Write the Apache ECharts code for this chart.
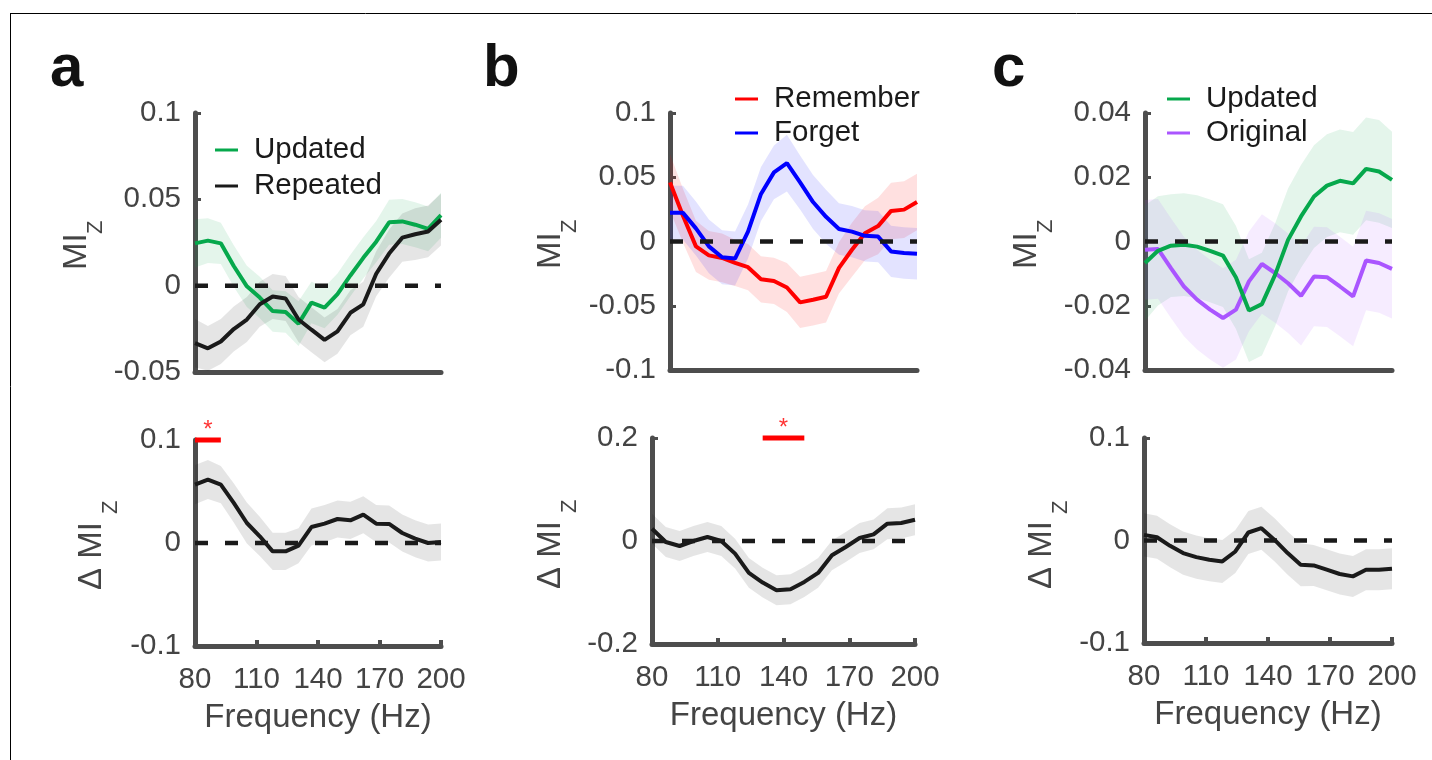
<!DOCTYPE html>
<html>
<head>
<meta charset="utf-8">
<title>MI_Z by frequency</title>
<script src="https://cdn.jsdelivr.net/npm/echarts@6/dist/echarts.min.js"></script>
<style>
  html, body { margin: 0; padding: 0; background: #fff; }
  #main { width: 1432px; height: 760px; }
</style>
</head>
<body>
<div id="main"></div>
<script>
// frequency bins (Hz)
var freqs = [80, 86.3, 92.6, 98.9, 105.3, 111.6, 117.9, 124.2, 130.5, 136.8, 143.2, 149.5, 155.8, 162.1, 168.4, 174.7, 181.1, 187.4, 193.7, 200];
var freqTicks = [80, 110, 140, 170, 200];

// panel a : Updated vs Repeated
var aUpdated = [0.0245, 0.0261, 0.0245, 0.0114, -0.0004, -0.0069, -0.0147, -0.0153, -0.0220, -0.0098, -0.0127, -0.0049, 0.0059, 0.0161, 0.0255, 0.0367, 0.0372, 0.0353, 0.0329, 0.0408];
var aUpdatedErr = [0.014, 0.013, 0.012, 0.012, 0.012, 0.012, 0.012, 0.012, 0.013, 0.012, 0.012, 0.012, 0.012, 0.012, 0.012, 0.013, 0.013, 0.013, 0.013, 0.013];
var aRepeated = [-0.0333, -0.0363, -0.0323, -0.0251, -0.0196, -0.0108, -0.0063, -0.0074, -0.0196, -0.0255, -0.0314, -0.0265, -0.0157, -0.0108, 0.0069, 0.0186, 0.0278, 0.0298, 0.0314, 0.0382];
var aRepeatedErr = [0.014, 0.013, 0.013, 0.013, 0.013, 0.013, 0.013, 0.013, 0.013, 0.013, 0.013, 0.013, 0.013, 0.013, 0.013, 0.014, 0.014, 0.015, 0.015, 0.015];
var aDiff = [0.0567, 0.0616, 0.0567, 0.0389, 0.0194, 0.0065, -0.0081, -0.0081, -0.0026, 0.0155, 0.0188, 0.0233, 0.0220, 0.0275, 0.0188, 0.0185, 0.0097, 0.0042, 0.0000, 0.0010];
var aDiffErr = [0.019, 0.019, 0.018, 0.019, 0.020, 0.019, 0.018, 0.018, 0.017, 0.018, 0.018, 0.018, 0.018, 0.018, 0.018, 0.018, 0.018, 0.018, 0.018, 0.018];
var aSig = [80, 92.6];

// panel b : Remember vs Forget
var bRemember = [0.0460, 0.0200, -0.0038, -0.0108, -0.0128, -0.0166, -0.0200, -0.0294, -0.0307, -0.0358, -0.0474, -0.0453, -0.0430, -0.0205, -0.0064, 0.0064, 0.0120, 0.0238, 0.0248, 0.0307];
var bRememberErr = [0.022, 0.021, 0.020, 0.019, 0.019, 0.018, 0.018, 0.018, 0.018, 0.019, 0.020, 0.020, 0.020, 0.020, 0.021, 0.021, 0.022, 0.022, 0.022, 0.022];
var bForget = [0.0223, 0.0223, 0.0102, -0.0038, -0.0123, -0.0133, 0.0077, 0.0370, 0.0538, 0.0610, 0.0460, 0.0307, 0.0192, 0.0097, 0.0077, 0.0044, 0.0038, -0.0077, -0.0090, -0.0095];
var bForgetErr = [0.021, 0.021, 0.021, 0.021, 0.021, 0.021, 0.021, 0.021, 0.021, 0.022, 0.021, 0.021, 0.021, 0.020, 0.020, 0.020, 0.020, 0.020, 0.020, 0.020];
var bDiff = [0.0239, -0.0019, -0.0097, 0.0000, 0.0078, 0.0000, -0.0245, -0.0620, -0.0808, -0.0956, -0.0937, -0.0795, -0.0620, -0.0278, -0.0116, 0.0058, 0.0129, 0.0336, 0.0349, 0.0413];
var bDiffErr = [0.029, 0.029, 0.029, 0.029, 0.029, 0.029, 0.029, 0.029, 0.029, 0.029, 0.029, 0.029, 0.029, 0.029, 0.029, 0.029, 0.029, 0.030, 0.030, 0.030];
var bSig = [130.5, 149.5];

// panel c : Updated vs Original
var cUpdated = [-0.0067, -0.0029, -0.0013, -0.0010, -0.0016, -0.0029, -0.0044, -0.0112, -0.0215, -0.0195, -0.0104, 0.0005, 0.0078, 0.0140, 0.0174, 0.0189, 0.0181, 0.0226, 0.0218, 0.0192];
var cUpdatedErr = [0.018, 0.017, 0.016, 0.016, 0.016, 0.016, 0.016, 0.016, 0.016, 0.016, 0.016, 0.016, 0.016, 0.016, 0.016, 0.016, 0.016, 0.016, 0.016, 0.015];
var cOriginal = [-0.0026, -0.0023, -0.0083, -0.0140, -0.0181, -0.0212, -0.0238, -0.0212, -0.0124, -0.0070, -0.0098, -0.0130, -0.0169, -0.0109, -0.0111, -0.0140, -0.0171, -0.0059, -0.0067, -0.0085];
var cOriginalErr = [0.0155, 0.0155, 0.0155, 0.0155, 0.0155, 0.0155, 0.0155, 0.0155, 0.0155, 0.0155, 0.0155, 0.0155, 0.0155, 0.0155, 0.0155, 0.0155, 0.0155, 0.0155, 0.0155, 0.0155];
var cDiff = [0.0055, 0.0032, -0.0052, -0.0123, -0.0162, -0.0188, -0.0204, -0.0107, 0.0078, 0.0120, 0.0006, -0.0123, -0.0237, -0.0243, -0.0285, -0.0327, -0.0350, -0.0285, -0.0285, -0.0275];
var cDiffErr = [0.021, 0.021, 0.021, 0.021, 0.021, 0.021, 0.021, 0.021, 0.021, 0.021, 0.021, 0.021, 0.021, 0.020, 0.020, 0.020, 0.020, 0.020, 0.020, 0.020];

// y tick values per panel
var aTopTicks = [-0.05, 0, 0.05, 0.1];
var aBotTicks = [-0.1, 0, 0.1];
var bTopTicks = [-0.1, -0.05, 0, 0.05, 0.1];
var bBotTicks = [-0.2, 0, 0.2];
var cTopTicks = [-0.04, -0.02, 0, 0.02, 0.04];
var cBotTicks = [-0.1, 0, 0.1];

var font = '"Liberation Sans", Arial, Helvetica, sans-serif';
var axisColor = '#4d4d4d';
var labelColor = '#444';
var green = '#06a84c', black = '#1a1a1a', red = '#ff0000', blue = '#0000ff', purple = '#aa55ff';

function pairs(ys) {
  return freqs.map(function (f, i) { return [f, ys[i]]; });
}

// shaded error band drawn as one polygon through the axis scale
function band(mean, err, fill, gi) {
  var data = freqs.map(function (f, i) { return [f, mean[i] - err[i], mean[i] + err[i]]; });
  return {
    type: 'custom', xAxisIndex: gi, yAxisIndex: gi, silent: true, z: 1,
    data: data,
    encode: { x: 0, y: [1, 2] },
    renderItem: function (params, api) {
      if (params.dataIndex !== 0) return;
      var top = [], bottom = [];
      for (var i = 0; i < data.length; i++) {
        top.push(api.coord([data[i][0], data[i][2]]));
        bottom.push(api.coord([data[i][0], data[i][1]]));
      }
      return { type: 'polygon', shape: { points: top.concat(bottom.reverse()) }, style: { fill: fill } };
    }
  };
}

function meanLine(name, ys, color, gi) {
  return {
    name: name, type: 'line', xAxisIndex: gi, yAxisIndex: gi,
    data: pairs(ys), symbol: 'none', showSymbol: false, silent: true, z: 3,
    lineStyle: { color: color, width: 4 }, itemStyle: { color: color }
  };
}

function zeroLine(gi) {
  return {
    type: 'line', xAxisIndex: gi, yAxisIndex: gi, data: [[80, 0], [200, 0]],
    symbol: 'none', silent: true, z: 4,
    lineStyle: { color: black, width: 4.5, type: [13, 17] }
  };
}

function sigBar(gi, range, y) {
  return [
    {
      type: 'line', xAxisIndex: gi, yAxisIndex: gi, data: [[range[0], y], [range[1], y]],
      symbol: 'none', clip: false, silent: true, z: 5,
      lineStyle: { color: red, width: 5 }
    },
    {
      type: 'scatter', xAxisIndex: gi, yAxisIndex: gi, data: [[(range[0] + range[1]) / 2, y]],
      symbolSize: 1, itemStyle: { color: 'transparent' }, clip: false, silent: true, z: 5,
      label: { show: true, position: 'top', distance: -3, formatter: '*', color: red, fontSize: 24, fontFamily: font }
    }
  ];
}

function xAxisFor(gi, bottom) {
  return {
    type: 'value', gridIndex: gi, min: 80, max: 200,
    axisLine: { onZero: false, lineStyle: { color: axisColor, width: 5 } },
    axisTick: { show: bottom, inside: true, length: 6, customValues: freqTicks, lineStyle: { color: axisColor, width: 4 } },
    axisLabel: { show: bottom, customValues: freqTicks, margin: 19, fontSize: 29.5, color: labelColor, fontFamily: font },
    splitLine: { show: false },
    name: bottom ? 'Frequency (Hz)' : '', nameLocation: 'middle', nameGap: 55,
    nameTextStyle: { fontSize: 33, color: labelColor, fontFamily: font }
  };
}

function yAxisFor(gi, ticks) {
  return {
    type: 'value', gridIndex: gi, min: ticks[0], max: ticks[ticks.length - 1],
    axisLine: { show: true, onZero: false, lineStyle: { color: axisColor, width: 5 } },
    axisTick: { show: true, inside: true, length: 6, customValues: ticks, lineStyle: { color: axisColor, width: 3 } },
    axisLabel: {
      customValues: ticks, margin: 14, fontSize: 29.5, color: labelColor, fontFamily: font,
      formatter: function (v) { return String(+v.toFixed(3)); }
    },
    splitLine: { show: false }
  };
}

// rotated y labels, main text + subscript
function yName(mainText, x, y, subX, subY) {
  return [
    { type: 'text', x: x, y: y, rotation: Math.PI / 2, silent: true,
      style: { text: mainText, font: '33px ' + font, fill: labelColor, align: 'left', verticalAlign: 'middle' } },
    { type: 'text', x: subX, y: subY, rotation: Math.PI / 2, silent: true,
      style: { text: 'Z', font: '22px ' + font, fill: labelColor, align: 'left', verticalAlign: 'middle' } }
  ];
}

function panelLetter(t, x) {
  return { type: 'text', x: x, y: 69, silent: true,
    style: { text: t, font: 'bold 60px ' + font, fill: '#111', align: 'left', verticalAlign: 'middle' } };
}

var legendBase = {
  orient: 'vertical', icon: 'rect', itemWidth: 23, itemHeight: 3, padding: 0,
  textStyle: { fontSize: 29.5, color: '#1a1a1a', fontFamily: font, padding: [0, 0, 0, 11] }
};

var series = [].concat(
  // a top
  band(aUpdated, aUpdatedErr, 'rgba(6,168,76,0.11)', 0),
  band(aRepeated, aRepeatedErr, 'rgba(0,0,0,0.1)', 0),
  meanLine('Updated', aUpdated, green, 0),
  meanLine('Repeated', aRepeated, black, 0),
  zeroLine(0),
  // a bottom
  band(aDiff, aDiffErr, 'rgba(0,0,0,0.1)', 1),
  meanLine('Δ a', aDiff, black, 1),
  zeroLine(1),
  sigBar(1, aSig, 0.1),
  // b top
  band(bRemember, bRememberErr, 'rgba(255,0,0,0.12)', 2),
  band(bForget, bForgetErr, 'rgba(0,0,255,0.11)', 2),
  meanLine('Remember', bRemember, red, 2),
  meanLine('Forget', bForget, blue, 2),
  zeroLine(2),
  // b bottom
  band(bDiff, bDiffErr, 'rgba(0,0,0,0.1)', 3),
  meanLine('Δ b', bDiff, black, 3),
  zeroLine(3),
  sigBar(3, bSig, 0.2),
  // c top
  band(cUpdated, cUpdatedErr, 'rgba(6,168,76,0.11)', 4),
  band(cOriginal, cOriginalErr, 'rgba(170,85,255,0.11)', 4),
  meanLine('Original', cOriginal, purple, 4),
  meanLine('Updated', cUpdated, green, 4),
  zeroLine(4),
  // c bottom
  band(cDiff, cDiffErr, 'rgba(0,0,0,0.1)', 5),
  meanLine('Δ c', cDiff, black, 5),
  zeroLine(5)
);

var chart = echarts.init(document.getElementById('main'), null, { renderer: 'canvas' });

var option = {
  animation: false,
  backgroundColor: '#fff',
  grid: [
    { left: 195, top: 113, width: 246, height: 259, outerBoundsMode: 'none' },
    { left: 195, top: 440, width: 246, height: 206, outerBoundsMode: 'none' },
    { left: 670, top: 113, width: 247, height: 257, outerBoundsMode: 'none' },
    { left: 652, top: 438, width: 263, height: 206, outerBoundsMode: 'none' },
    { left: 1145, top: 113, width: 247, height: 257, outerBoundsMode: 'none' },
    { left: 1144, top: 438, width: 248, height: 205, outerBoundsMode: 'none' }
  ],
  xAxis: [xAxisFor(0, false), xAxisFor(1, true), xAxisFor(2, false), xAxisFor(3, true), xAxisFor(4, false), xAxisFor(5, true)],
  yAxis: [yAxisFor(0, aTopTicks), yAxisFor(1, aBotTicks), yAxisFor(2, bTopTicks), yAxisFor(3, bBotTicks), yAxisFor(4, cTopTicks), yAxisFor(5, cBotTicks)],
  legend: [
    Object.assign({}, legendBase, { data: ['Updated', 'Repeated'], left: 215, top: 135, itemGap: 6 }),
    Object.assign({}, legendBase, { data: ['Remember', 'Forget'], left: 735, top: 84, itemGap: 4 }),
    Object.assign({}, legendBase, { data: ['Updated', 'Original'], left: 1167, top: 84, itemGap: 4 })
  ],
  graphic: [].concat(
    [
      { type: 'line', silent: true, shape: { x1: 10, y1: 13.5, x2: 1432, y2: 13.5 }, style: { stroke: '#000', lineWidth: 1 } },
      { type: 'line', silent: true, shape: { x1: 10.5, y1: 13, x2: 10.5, y2: 760 }, style: { stroke: '#000', lineWidth: 1 } },
      panelLetter('a', 50),
      panelLetter('b', 483),
      panelLetter('c', 992)
    ],
    yName('MI', 76.5, 270, 95.5, 234),
    yName('Δ MI', 91.5, 590, 110.5, 514),
    yName('MI', 550.5, 269, 569.5, 233),
    yName('Δ MI', 550.5, 589, 569.5, 513),
    yName('MI', 1026.5, 269, 1045.5, 233),
    yName('Δ MI', 1041.5, 589, 1060.5, 514)
  ),
  series: series
};

chart.setOption(option);
</script>
</body>
</html>
